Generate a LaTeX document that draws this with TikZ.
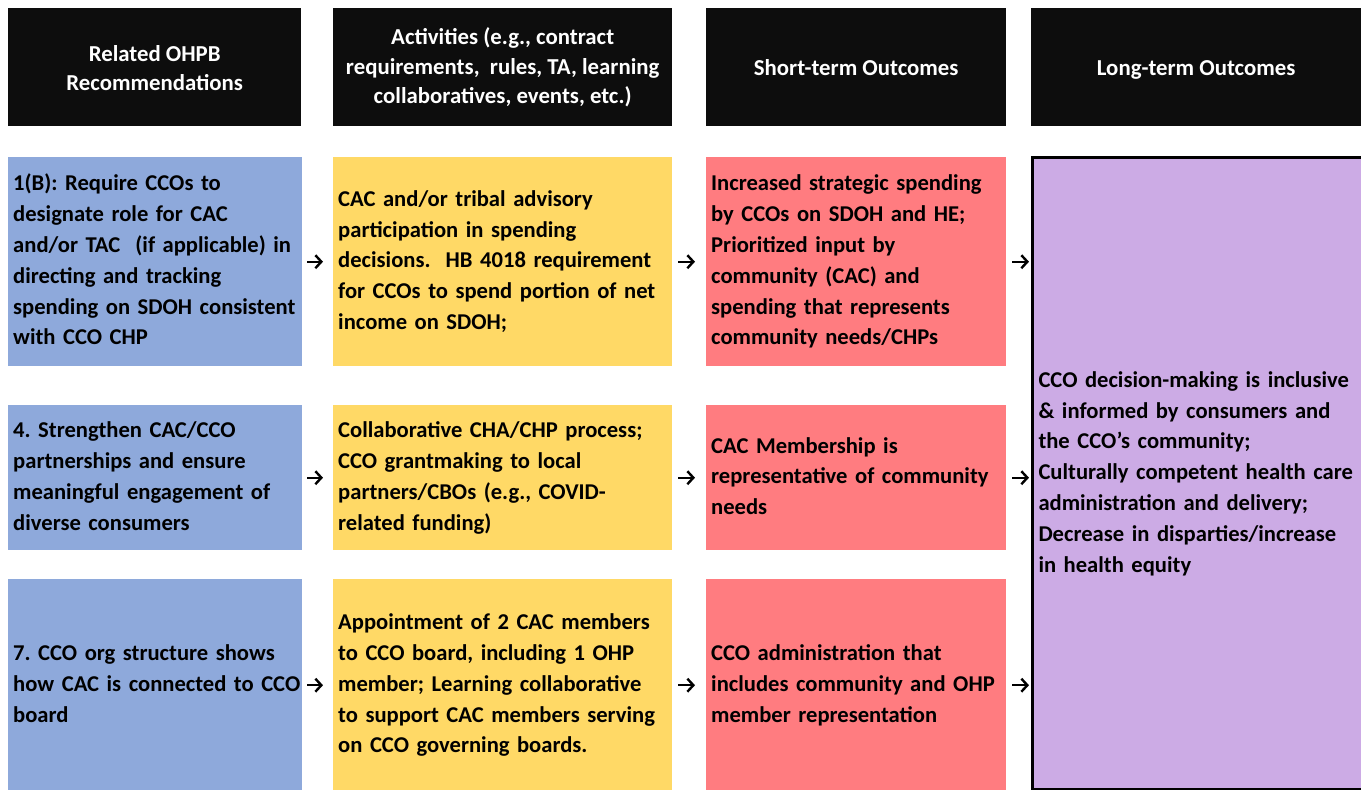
\documentclass[tikz,border=0pt]{standalone}
\usepackage{fontspec}
\setmainfont{Carlito}
\usetikzlibrary{arrows.meta}
\frenchspacing
\definecolor{headC}{HTML}{0D0D0D}
\definecolor{blueC}{HTML}{8EA9DB}
\definecolor{yellowC}{HTML}{FFD966}
\definecolor{redC}{HTML}{FF7C80}
\definecolor{purpleC}{HTML}{CCABE5}
\newcommand{\bodyfnt}{\bfseries\fontsize{22.6}{30.8}\selectfont}
\newcommand{\headfnt}{\bfseries\fontsize{22.8}{29.5}\selectfont}
\newcommand{\lns}[1]{\raisebox{-3pt}{\begin{tabular}{@{}l@{}}#1\end{tabular}}}
\newcommand{\dn}[2]{\raisebox{-#1}[\height][\depth]{#2}}
\begin{document}
\begin{tikzpicture}[x=1pt,y=-1pt,
  headbox/.style={rectangle, fill=headC, text=white, align=center, anchor=north west,
    inner sep=0pt, minimum height=118pt, font=\headfnt},
  cell/.style={rectangle, inner xsep=5pt, inner ysep=0pt, align=left, anchor=north west,
    font=\bodyfnt, text=black},
  flow/.style={line width=2.4pt, -{Straight Barb[length=6pt,width=13pt,line width=2.4pt]}},
]
\useasboundingbox (0,0) rectangle (1361,790);
\fill[white] (0,0) rectangle (1361,790);
% headers
\node[headbox, minimum width=293pt] (h1) at (8,8) {\dn{3pt}{\begin{tabular}{@{}c@{}}Related OHPB\\Recommendations\end{tabular}}};
\node[headbox, minimum width=339pt] (h2) at (333,8) {\dn{1pt}{\begin{tabular}{@{}c@{}}Activities (e.g., contract\\requirements,\ \ rules, TA, learning\\collaboratives, events, etc.)\end{tabular}}};
\node[headbox, minimum width=300pt] (h3) at (706,8) {\dn{2.5pt}{Short-term Outcomes\strut}};
\node[headbox, minimum width=330pt] (h4) at (1031,8) {\dn{2.5pt}{Long-term Outcomes\strut}};
% row 1
\node[cell, fill=blueC, text width=284pt, minimum height=209pt] (b1) at (8,157)
  {\lns{1(B): Require CCOs to\\designate role for CAC\\and/or TAC\ \ (if applicable) in\\directing and tracking\\spending on SDOH consistent\\with CCO CHP}};
\node[cell, fill=yellowC, text width=329pt, minimum height=209pt] (y1) at (333,157)
  {\lns{CAC and/or tribal advisory\\participation in spending\\decisions.\ \ HB 4018 requirement\\for CCOs to spend portion of net\\income on SDOH;}};
\node[cell, fill=redC, text width=290pt, minimum height=209pt] (r1) at (706,157)
  {\lns{Increased strategic spending\\by CCOs on SDOH and HE;\\Prioritized input by\\community (CAC) and\\spending that represents\\community needs/CHPs}};
% row 2
\node[cell, fill=blueC, text width=284pt, minimum height=145pt] (b2) at (8,405)
  {\lns{4. Strengthen CAC/CCO\\partnerships and ensure\\meaningful engagement of\\diverse consumers}};
\node[cell, fill=yellowC, text width=329pt, minimum height=145pt] (y2) at (333,405)
  {\lns{Collaborative CHA/CHP process;\\CCO grantmaking to local\\partners/CBOs (e.g., COVID-\\related funding)}};
\node[cell, fill=redC, text width=290pt, minimum height=145pt] (r2) at (706,405)
  {\lns{CAC Membership is\\representative of community\\needs}};
% row 3
\node[cell, fill=blueC, text width=284pt, minimum height=212pt] (b3) at (8,579)
  {\lns{7. CCO org structure shows\\how CAC is connected to CCO\\board}};
\node[cell, fill=yellowC, text width=329pt, minimum height=212pt] (y3) at (333,579)
  {\lns{Appointment of 2 CAC members\\to CCO board, including 1 OHP\\member; Learning collaborative\\to support CAC members serving\\on CCO governing boards.}};
\node[cell, fill=redC, text width=290pt, minimum height=212pt] (r3) at (706,579)
  {\lns{CCO administration that\\includes community and OHP\\member representation}};
% long-term
\node[cell, fill=purpleC, draw=black, line width=3pt, inner xsep=6pt, text width=320pt,
  minimum height=632pt] (lt) at (1031,156)
  {\lns{CCO decision-making is inclusive\\\& informed by consumers and\\the CCO’s community;\\Culturally competent health care\\administration and delivery;\\Decrease in disparties/increase\\in health equity}};
% arrows
\foreach \r in {1,2,3}{
  \draw[flow, shorten <=5pt, shorten >=10pt] (b\r.east) -- (y\r.west);
  \draw[flow, shorten <=6pt, shorten >=11pt] (y\r.east) -- (r\r.west);
  \draw[flow, shorten <=6pt, shorten >=2pt] (r\r.east) -- (r\r.east -| lt.west);
}
\end{tikzpicture}
\end{document}
